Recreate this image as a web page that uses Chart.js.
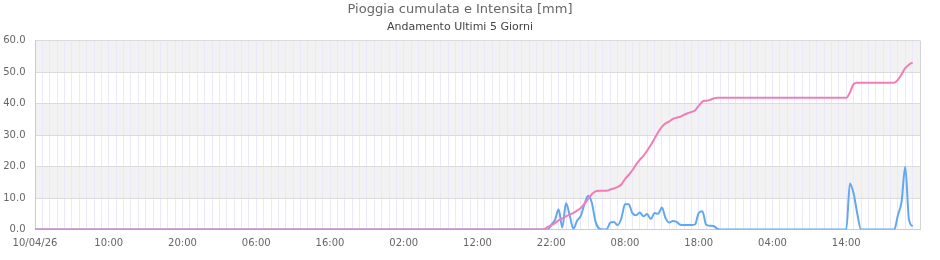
<!DOCTYPE html>
<html>
<head>
<meta charset="utf-8">
<title>Pioggia cumulata e Intensita</title>
<script src="https://cdn.jsdelivr.net/npm/chart.js@4.4.1/dist/chart.umd.min.js"></script>
<style>
  html, body { margin: 0; padding: 0; background: #fff; }
  #wrap { width: 940px; height: 260px; }
</style>
</head>
<body>
<div id="wrap"><canvas id="pioggia" width="940" height="260"></canvas></div>
<script>
// ore trascorse da 10/04/26 00:00 (fino alle 68 niente pioggia, poi una lettura ogni mezz'ora)
const ore = [0];
for (let h = 68; h <= 119; h += 0.5) ore.push(h);

// etichette dell'asse x, una ogni 10 ore
const etichette = ['10/04/26', '10:00', '20:00', '06:00', '16:00', '02:00',
                   '12:00', '22:00', '08:00', '18:00', '04:00', '14:00'];

// pioggia cumulata [mm]
const cumulata = [
    0,
    0, 0, 0.1, 0.8, 1.3, 2.0, 2.9, 3.5, 4.2, 4.7,
    5.3, 6.0, 6.8, 8.2, 9.7, 11.2, 12.1, 12.3, 12.3, 12.3,
    12.7, 13.0, 13.5, 14.3, 16.0, 17.3, 18.8, 20.6, 22.1, 23.4,
    25.0, 26.8, 28.8, 30.9, 32.6, 33.7, 34.3, 35.1, 35.5, 35.8,
    36.4, 36.9, 37.3, 37.8, 39.3, 40.6, 40.9, 41.1, 41.6, 41.8,
    41.8, 41.8, 41.8, 41.8, 41.8, 41.8, 41.8, 41.8, 41.8, 41.8,
    41.8, 41.8, 41.8, 41.8, 41.8, 41.8, 41.8, 41.8, 41.8, 41.8,
    41.8, 41.8, 41.8, 41.8, 41.8, 41.8, 41.8, 41.8, 41.8, 41.8,
    41.8, 41.8, 41.8, 41.8, 41.8,
    43.5, 46.2, 46.6,
    46.6, 46.6, 46.6, 46.6, 46.6, 46.6, 46.6, 46.6, 46.6, 46.6,
    47.5, 49.3, 51.2, 52.3, 53.0
];

// intensita [mm]
const intensita = [
    0,
    0, 0, 0, 0, 1.5, 3.0, 6.4, 0.6, 8.3, 4.5,
    0.2, 2.8, 4.3, 8.0, 10.7, 8.5, 2.5, 0.3, 0, 0,
    2.2, 2.4, 1.4, 3.5, 8.0, 8.0, 5.2, 4.5, 5.4, 4.2,
    4.9, 3.3, 5.2, 5.0, 7.0, 3.6, 2.2, 2.7, 2.4, 1.5,
    1.4, 1.4, 1.4, 1.6, 5.3, 5.8, 1.5, 1.2, 1.1, 0.3,
    0, 0, 0, 0, 0, 0, 0, 0, 0, 0,
    0, 0, 0, 0, 0, 0, 0, 0, 0, 0,
    0, 0, 0, 0, 0, 0, 0, 0, 0, 0,
    0, 0, 0, 0, 0,
    14.6, 11.4, 5.0,
    0, 0, 0, 0, 0, 0, 0, 0, 0, 0,
    4.5, 8.8, 19.9, 3.2, 1.0
];

function punti(valori) {
    return ore.map((h, i) => ({ x: h, y: valori[i] }));
}

// fasce grigie alternate dietro la griglia + bordo destro
const fasce = {
    id: 'fasce',
    beforeDraw(chart) {
        const { ctx, chartArea: { left, right }, scales: { y } } = chart;
        ctx.save();
        ctx.fillStyle = '#f2f2f2';
        for (let v = 10; v < 60; v += 20) {
            const top = y.getPixelForValue(v + 10);
            const bottom = y.getPixelForValue(v);
            ctx.fillRect(left, top, right - left, bottom - top);
        }
        ctx.restore();
    },
    afterDraw(chart) {
        const { ctx, chartArea: { right, top, bottom } } = chart;
        ctx.save();
        ctx.strokeStyle = '#d4d4d4';
        ctx.lineWidth = 1;
        ctx.beginPath();
        ctx.moveTo(Math.round(right) + 0.5, top);
        ctx.lineTo(Math.round(right) + 0.5, bottom);
        ctx.stroke();
        ctx.restore();
    }
};

Chart.defaults.font.family = "'DejaVu Sans', sans-serif";
const tickFont = { size: 10 };

new Chart(document.getElementById('pioggia').getContext('2d'), {
    type: 'line',
    data: {
        datasets: [
            {
                label: 'Pioggia cumulata',
                data: punti(cumulata),
                borderColor: '#f07db8',
                borderWidth: 2,
                pointRadius: 0,
                cubicInterpolationMode: 'monotone'
            },
            {
                label: 'Intensita',
                data: punti(intensita),
                borderColor: '#62a8f0',
                borderWidth: 2,
                pointRadius: 0,
                cubicInterpolationMode: 'monotone'
            }
        ]
    },
    options: {
        responsive: false,
        animation: false,
        layout: { padding: { right: 20 } },
        plugins: {
            legend: { display: false },
            tooltip: { enabled: false },
            title: {
                display: true,
                text: 'Pioggia cumulata e Intensita [mm]',
                color: '#666',
                font: { size: 13, weight: 'normal' },
                padding: { top: 2.2, bottom: 2.9 }
            },
            subtitle: {
                display: true,
                text: 'Andamento Ultimi 5 Giorni',
                color: '#444',
                font: { size: 11, weight: 'normal' },
                padding: { top: 0, bottom: 6.6 }
            }
        },
        scales: {
            x: {
                type: 'linear',
                min: 0,
                max: 120,
                ticks: {
                    stepSize: 1,
                    autoSkip: false,
                    maxRotation: 0,
                    color: '#666',
                    font: tickFont,
                    padding: 7.5,
                    callback: v => (v % 10 === 0 ? etichette[v / 10] : '')
                },
                grid: { color: '#ebe8fb', drawTicks: false },
                border: { color: '#cccccc' },
                afterFit: s => { s.height = 30.5; }
            },
            y: {
                min: 0,
                max: 60,
                ticks: {
                    stepSize: 10,
                    color: '#666',
                    font: tickFont,
                    padding: 9.5,
                    callback: v => v.toFixed(1)
                },
                grid: { color: '#dcdcdc', drawTicks: false },
                border: { color: '#cccccc' },
                afterFit: s => { s.width = 35; }
            }
        }
    },
    plugins: [fasce]
});
</script>
</body>
</html>
